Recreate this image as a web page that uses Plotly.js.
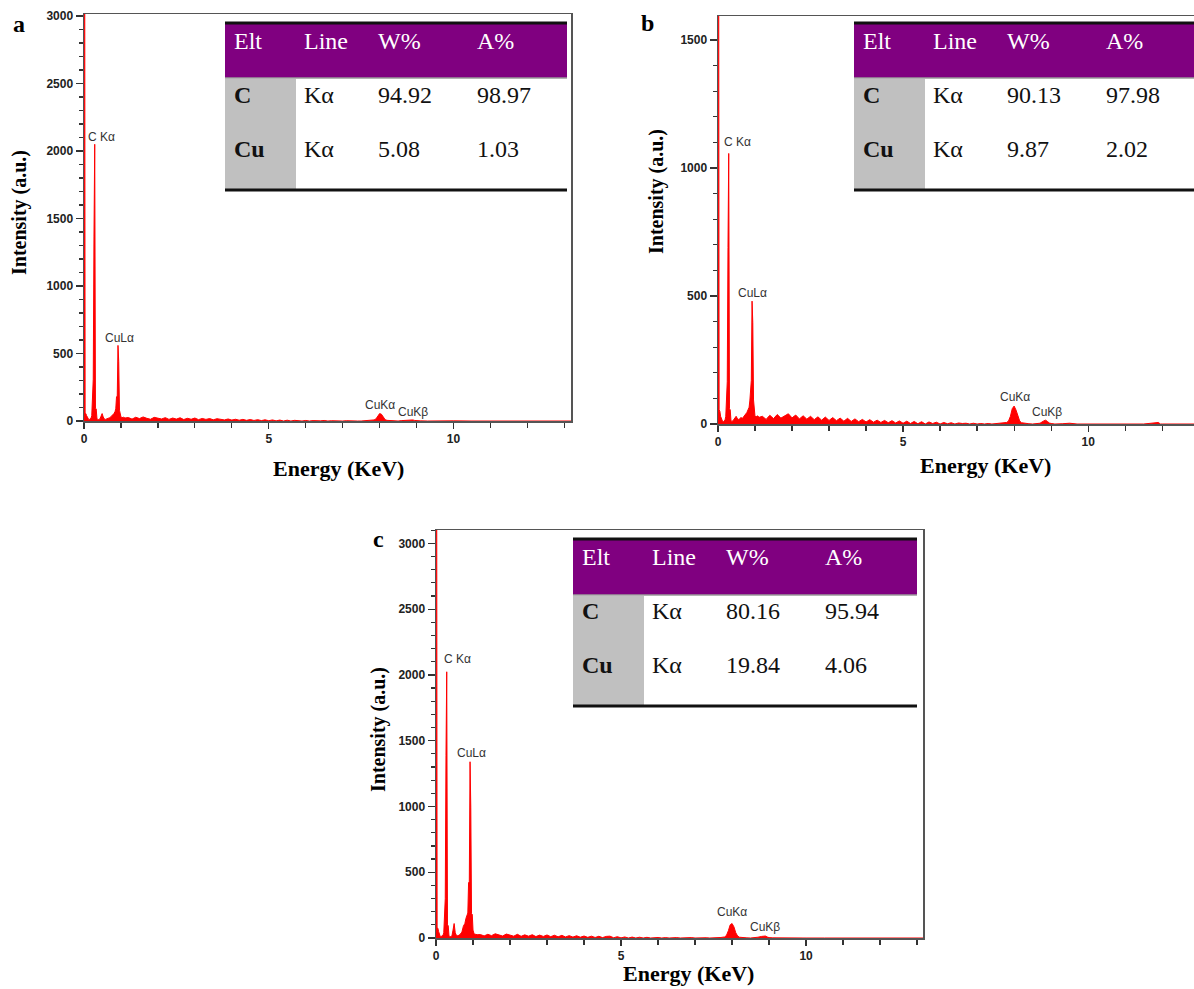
<!DOCTYPE html>
<html>
<head>
<meta charset="utf-8">
<script src="https://cdn.plot.ly/plotly-3.0.1.min.js"></script>
<style>html,body{margin:0;padding:0;background:#fff;}#chart{width:1194px;height:989px;}</style>
</head>
<body>
<div id="chart"></div>
<script>
// ---------- DATA ----------
const energy = [0, 0.02, 0.03, 0.05, 0.07, 0.09, 0.11, 0.13, 0.15, 0.17, 0.19, 0.21, 0.23, 0.25, 0.27, 0.29, 0.31, 0.33, 0.35, 0.37,
  0.40, 0.43, 0.46, 0.49, 0.52, 0.55, 0.58, 0.62, 0.66, 0.70, 0.74, 0.78, 0.81, 0.84, 0.86, 0.88, 0.90, 0.92, 0.94, 0.96,
  0.98, 1.00, 1.03, 1.07, 1.11,
  1.2, 1.3, 1.4, 1.5, 1.6, 1.7, 1.8, 1.9, 2.0, 2.1, 2.2, 2.3, 2.4, 2.5, 2.6, 2.7, 2.8, 2.9, 3.0, 3.1,
  3.2, 3.3, 3.4, 3.5, 3.6, 3.7, 3.8, 3.9, 4.0, 4.1, 4.2, 4.3, 4.4, 4.5, 4.6, 4.7, 4.8, 4.9, 5.0, 5.1,
  5.2, 5.3, 5.4, 5.5, 5.6, 5.7, 5.8, 5.9, 6.0, 6.1, 6.2, 6.3, 6.4, 6.5, 6.6, 6.7, 6.8, 6.9, 7.0, 7.1,
  7.2, 7.3, 7.4, 7.5, 7.6, 7.7,
  7.8, 7.85, 7.9, 7.95, 8.0, 8.05, 8.1, 8.15, 8.2, 8.3,
  8.4, 8.5, 8.6, 8.7, 8.8, 8.85, 8.9, 8.95, 9.0, 9.1, 9.3, 9.5, 9.7, 10.0, 10.5, 11.0, 11.5, 11.9, 11.95, 12.0,
  12.5, 13.0, 13.2];

// panel a counts
const lowA  = [3300,3300,60,55,40,25,15,10,12,15, 20,40,300,310,1370,2050,95,90,20,12,
               10,15,35,55,30,15,12,15,20,25, 35,45,55,70,90,180,185,560,440,80, 40,30,25,28,22];
const bgA   = [26,14,28,18,30,20,13,27,19,15, 25,12,22,14,24,11,20,13,22,10, 19,12,18,9,17,10,8,15,7,13,
               6,12,5,11,4,10,3,9,2,8, 1,7,0,6,0,5,2,0,4,0, 3,0,1,4,0,2,0,3,0,2, 0,2,0,0,3,2];
const kA    = [5,8,15,35,55,50,25,10,5,2];
const tailA = [1,0,3,6,5,7,8,4,2,1, 0,1,0,1,0,0,0,0,0,0, 0,0,0];

// panel b counts
const lowB  = [1700,1700,55,50,30,20,10,8,10,12, 15,30,160,165,690,1057,60,55,15,10,
               12,18,25,30,22,18,20,25,22,30, 35,45,55,65,90,165,170,480,396,94, 40,30,28,32,26];
const bgB   = [30,18,34,21,37,23,32,40,24,35, 20,32,19,30,17,28,15,27,14,25, 13,23,11,22,10,20,9,18,8,17,
               7,15,6,14,5,13,4,12,3,11, 2,10,1,9,0,8,2,7,0,6, 1,5,0,4,2,3,0,3,0,2, 0,2,0,2,3,4];
const kB    = [6,12,30,60,70,55,30,12,5,2];
const tailB = [1,0,1,3,12,15,10,4,2,0, 1,3,0,0,0,0,0,6,0,0, 0,0,0];

// panel c counts
const lowC  = [3200,3200,80,75,50,25,15,10,12,15, 20,40,290,300,1390,2024,100,95,20,12,
               10,15,60,110,40,20,18,20,30,45, 90,110,150,185,190,420,430,1340,995,185, 180,60,30,28,25];
const bgC   = [26,16,28,18,32,21,15,30,20,14, 28,13,24,14,25,11,22,12,23,10, 21,9,20,8,18,7,17,6,15,5,
               14,4,13,3,12,14,2,10,1,8, 0,7,0,6,0,5,0,4,4,0, 3,0,2,3,0,2,0,3,0,2, 1,2,0,0,2,4];
const kC    = [8,20,55,100,110,85,40,15,6,2];
const tailC = [1,0,2,6,12,14,15,8,3,1, 0,0,0,0,0,0,0,0,0,0, 0,0,0];

const countsA = lowA.concat(bgA, kA, tailA);
const countsB = lowB.concat(bgB, kB, tailB);
const countsC = lowC.concat(bgC, kC, tailC);

// tables
const tableHeader = ['Elt', 'Line', 'W%', 'A%'];
const elements = ['C', 'Cu'];
const lineNames = ['Kα', 'Kα'];
const wtA = ['94.92', '5.08'], atA = ['98.97', '1.03'];
const wtB = ['90.13', '9.87'], atB = ['97.98', '2.02'];
const wtC = ['80.16', '19.84'], atC = ['95.94', '4.06'];

const peakLabels = ['C Kα', 'CuLα', 'CuKα', 'CuKβ'];
const panelLetters = ['a', 'b', 'c'];

// ---------- LAYOUT HELPERS ----------
const W = 1194, H = 989;
const px = x => x / W;
const py = y => 1 - y / H;

const serif = 'Liberation Serif, Times New Roman, serif';
const sans = 'Liberation Sans, Arial, sans-serif';

function trace(y, xa, ya) {
  return {
    x: energy, y: y, xaxis: xa, yaxis: ya, type: 'scatter', mode: 'lines',
    line: {color: '#ff0000', width: 1}, fill: 'tozeroy', fillcolor: '#ff0000',
    hoverinfo: 'skip', showlegend: false
  };
}

function xAxis(d, rng, anchor) {
  return {
    domain: d, range: rng, anchor: anchor,
    showline: true, linecolor: '#555', linewidth: 1.5, mirror: true,
    showgrid: false, zeroline: false,
    ticks: 'outside', ticklen: 6, tickwidth: 1.2, tickcolor: '#333',
    tickvals: [0, 5, 10], ticktext: ['<b>0</b>', '<b>5</b>', '<b>10</b>'],
    minor: {tickvals: [1,2,3,4,6,7,8,9,11,12,13], ticks: 'outside', ticklen: 5, tickwidth: 1.2, tickcolor: '#333'},
    tickfont: {family: sans, size: 12, color: '#222', weight: 'bold'},
    fixedrange: true
  };
}
function yAxis(d, rng, anchor, vals, mdt, mirror) {
  return {
    domain: d, range: rng, anchor: anchor,
    showline: true, linecolor: '#555', linewidth: 1.5, mirror: mirror,
    showgrid: false, zeroline: false,
    ticks: 'outside', ticklen: 7, tickwidth: 1.2, tickcolor: '#333',
    tickvals: vals, ticktext: vals.map(v => '<b>' + v + '</b>'),
    minor: {dtick: mdt, tick0: 0, ticks: 'outside', ticklen: 4, tickwidth: 1.2, tickcolor: '#333'},
    tickfont: {family: sans, size: 12, color: '#222', weight: 'bold'},
    fixedrange: true
  };
}

const shapes = [];
const annotations = [];

function addText(x, y, text, font, xanchor, yanchor) {
  annotations.push({xref: 'paper', yref: 'paper', x: px(x), y: py(y), text: text,
    showarrow: false, xanchor: xanchor || 'center', yanchor: yanchor || 'middle', font: font});
}

function addTable(L, R, T, Hd, B, wt, at) {
  shapes.push({type: 'rect', xref: 'paper', yref: 'paper', x0: px(L), x1: px(R), y0: py(T), y1: py(Hd),
    fillcolor: '#800080', line: {width: 0}, layer: 'above'});
  shapes.push({type: 'rect', xref: 'paper', yref: 'paper', x0: px(L), x1: px(L + 71), y0: py(Hd + 1), y1: py(B - 1),
    fillcolor: '#c0c0c0', line: {width: 0}, layer: 'above'});
  shapes.push({type: 'line', xref: 'paper', yref: 'paper', x0: px(L), x1: px(R), y0: py(T), y1: py(T),
    line: {color: '#111', width: 3}, layer: 'above'});
  shapes.push({type: 'line', xref: 'paper', yref: 'paper', x0: px(L), x1: px(R), y0: py(Hd), y1: py(Hd),
    line: {color: '#9a9a9a', width: 1.5}, layer: 'above'});
  shapes.push({type: 'line', xref: 'paper', yref: 'paper', x0: px(L), x1: px(R), y0: py(B), y1: py(B),
    line: {color: '#111', width: 3}, layer: 'above'});
  const colX = [7, 77, 151, 250];
  const fH = {family: serif, size: 24, color: '#ffffff'};
  tableHeader.forEach((h, i) => addText(L + colX[i], T + 18, h, fH, 'left'));
  const fB = {family: serif, size: 24, color: '#111', weight: 'bold'};
  const fR = {family: serif, size: 24, color: '#111'};
  const rowY = [T + 72, T + 126];
  for (let r = 0; r < 2; r++) {
    addText(L + colX[0], rowY[r], '<b>' + elements[r] + '</b>', fB, 'left');
    addText(L + colX[1], rowY[r], lineNames[r], fR, 'left');
    addText(L + colX[2], rowY[r], wt[r], fR, 'left');
    addText(L + colX[3], rowY[r], at[r], fR, 'left');
  }
}

// tables
addTable(225, 567, 23, 78, 190, wtA, atA);
addTable(854, 1194, 23, 78, 190, wtB, atB);
addTable(573, 917, 539, 595, 706, wtC, atC);

// panel letters
const fLetter = {family: serif, size: 24, color: '#000', weight: 'bold'};
addText(19, 24, '<b>' + panelLetters[0] + '</b>', fLetter);
addText(647, 23, '<b>' + panelLetters[1] + '</b>', fLetter);
addText(378, 539, '<b>' + panelLetters[2] + '</b>', fLetter);

// axis titles
const fY = {family: serif, size: 20, color: '#000', weight: 'bold'};
const fX = {family: serif, size: 22, color: '#000', weight: 'bold'};
function yTitle(x, y) {
  annotations.push({xref: 'paper', yref: 'paper', x: px(x), y: py(y), text: '<b>Intensity (a.u.)</b>',
    showarrow: false, textangle: -90, xanchor: 'center', yanchor: 'middle', font: fY});
}
yTitle(19, 213);
yTitle(656, 192);
yTitle(378, 730);
addText(338, 468, '<b>Energy (KeV)</b>', fX);
addText(985, 466, '<b>Energy (KeV)</b>', fX);
addText(688, 973, '<b>Energy (KeV)</b>', fX);

// peak labels
const fP = {family: sans, size: 12, color: '#333'};
addText(101, 137, peakLabels[0], fP);
addText(119, 338, peakLabels[1], fP);
addText(380, 405, peakLabels[2], fP);
addText(413, 412, peakLabels[3], fP);

addText(737, 142, peakLabels[0], fP);
addText(752, 293, peakLabels[1], fP);
addText(1015, 397, peakLabels[2], fP);
addText(1047, 412, peakLabels[3], fP);

addText(457, 659, peakLabels[0], fP);
addText(471, 753, peakLabels[1], fP);
addText(732, 912, peakLabels[2], fP);
addText(765, 927, peakLabels[3], fP);

const data = [
  trace(countsA, 'x', 'y'),
  trace(countsB, 'x2', 'y2'),
  trace(countsC, 'x3', 'y3')
];

const layout = {
  width: W, height: H,
  margin: {l: 0, r: 0, t: 0, b: 0},
  paper_bgcolor: '#ffffff', plot_bgcolor: '#ffffff',
  showlegend: false,
  xaxis: xAxis([px(84), px(571)], [0, 13.18], 'y'),
  yaxis: yAxis([py(421), py(14)], [0, 3015], 'x', [0, 500, 1000, 1500, 2000, 2500, 3000], 100, true),
  xaxis2: xAxis([px(718), 1], [0, 12.86], 'y2'),
  yaxis2: yAxis([py(424), py(16)], [0, 1594], 'x2', [0, 500, 1000, 1500], 100, false),
  xaxis3: xAxis([px(436), px(923)], [0, 13.16], 'y3'),
  yaxis3: yAxis([py(938), py(530)], [0, 3102], 'x3', [0, 500, 1000, 1500, 2000, 2500, 3000], 100, true),
  shapes: shapes,
  annotations: annotations
};

Plotly.newPlot('chart', data, layout, {staticPlot: true, displayModeBar: false});
</script>
</body>
</html>
